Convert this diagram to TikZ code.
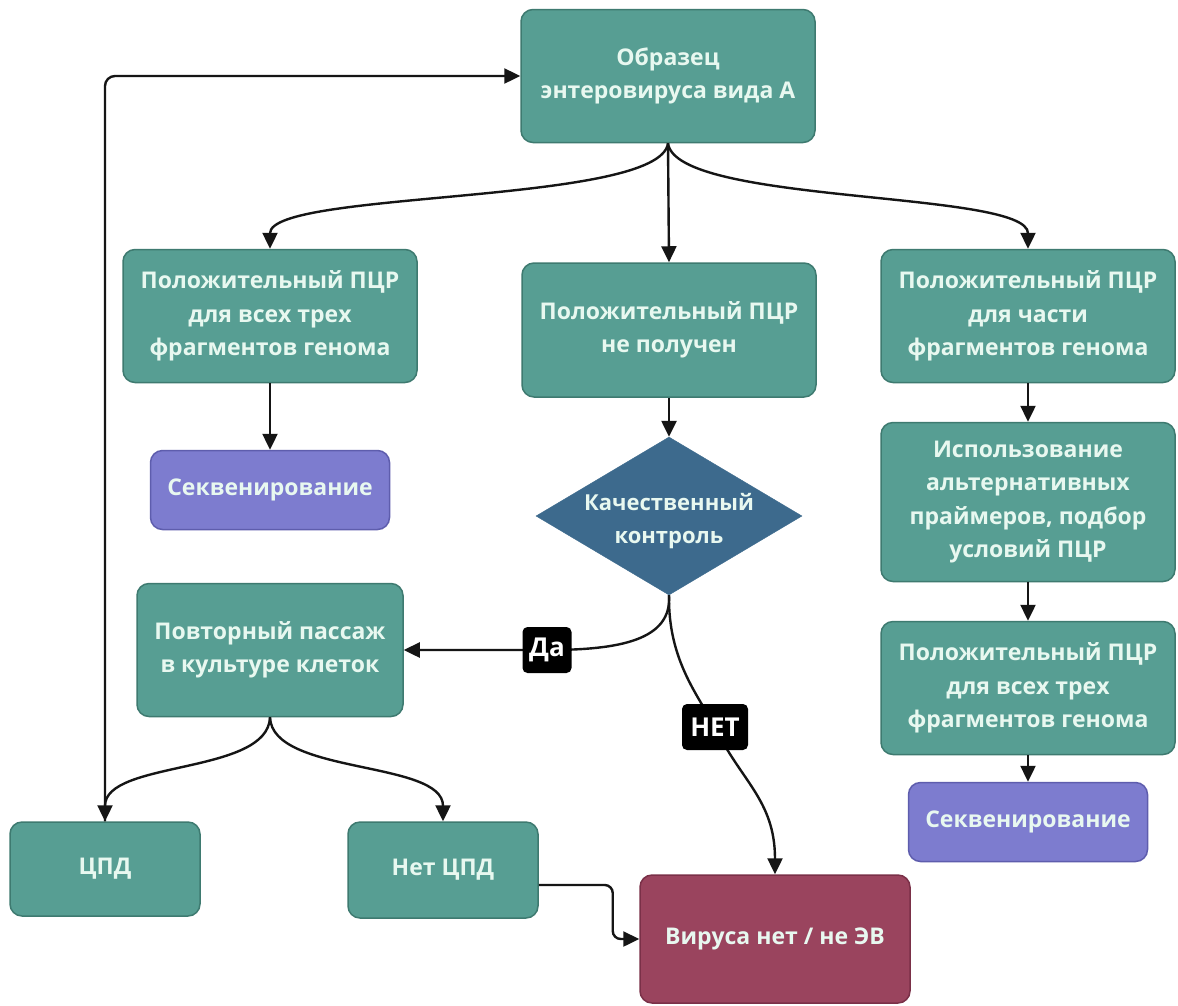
\documentclass[tikz,border=0pt]{standalone}
\usepackage{fontspec}
\setmainfont{Open Sans}
\usetikzlibrary{shapes.geometric,arrows.meta}
\definecolor{tealf}{HTML}{579E93}
\definecolor{tealb}{HTML}{3E7A70}
\definecolor{purf}{HTML}{7D7CCF}
\definecolor{purb}{HTML}{5E5DAD}
\definecolor{diaf}{HTML}{3D6A8D}
\definecolor{redf}{HTML}{9A445E}
\definecolor{redb}{HTML}{7A3048}
\definecolor{txt}{HTML}{E8F8F0}
\definecolor{lnk}{HTML}{151515}
\begin{document}
\begin{tikzpicture}[x=1pt,y=-1pt,
  box/.style={draw=tealb, fill=tealf, line width=1.5pt, rounded corners=12pt, text=txt,
    font=\bfseries\fontsize{23}{33.5}\selectfont, align=center,
    minimum width=294pt, minimum height=133pt, inner sep=0pt},
  seqbox/.style={box, draw=purb, fill=purf, minimum width=239pt, minimum height=79pt},
  redbox/.style={box, draw=redb, fill=redf},
  diabox/.style={diamond, draw=diaf, fill=diaf, minimum width=266pt, minimum height=158pt, inner sep=0pt},
  diatext/.style={text=txt, font=\bfseries\fontsize{22}{33}\selectfont, align=center},
  lab/.style={fill=black, text=white, rounded corners=5pt, font=\bfseries\fontsize{26}{28}\selectfont,
    inner sep=0pt, minimum height=46pt},
  arr/.style={draw=lnk, line width=2.4pt, -{Triangle[length=16pt,width=15pt]}},
  ln/.style={draw=lnk, line width=2.4pt}
]
\useasboundingbox[fill=white] (0,0) rectangle (1178,1005);

\node[box] (top) at (668,76) {Образец\\энтеровируса вида А};
\node[box] (l1) at (270,316) {Положительный ПЦР\\для всех трех\\фрагментов генома};
\node[box, minimum height=134pt] (m1) at (669,330) {Положительный ПЦР\\не получен};
\node[box] (r1) at (1028,316) {Положительный ПЦР\\для части\\фрагментов генома};
\node[seqbox] (s1) at (270,490) {Секвенирование};
\node[diabox] (qc) at (669,516) {};
\node[diatext] (qct) at (669,521) {Качественный\\контроль};
\node[box, minimum width=266pt] (rep) at (270,650) {Повторный пассаж\\в культуре клеток};
\node[box, minimum height=159pt] (alt) at (1028,502) {Использование\\альтернативных\\праймеров, подбор\\условий ПЦР};
\node[box] (r3) at (1028,688) {Положительный ПЦР\\для всех трех\\фрагментов генома};
\node[seqbox] (s2) at (1028,822) {Секвенирование};
\node[box, minimum width=190pt, minimum height=94pt] (cpd) at (105,869) {ЦПД};
\node[box, minimum width=190pt, minimum height=96pt] (ncpd) at (443,870) {Нет ЦПД};
\node[redbox, minimum width=270pt, minimum height=128pt] (nov) at (775,939) {Вируса нет / не ЭВ};

% connectors from top
\draw[arr] (top.south) .. controls (660,205) and (270,190) .. (l1.north);
\draw[arr] (top.south) -- (m1.north);
\draw[arr] (top.south) .. controls (676,205) and (1028,190) .. (r1.north);

\draw[arr] (l1.south) -- (s1.north);
\draw[arr] (m1.south) -- (qc.north);
\draw[arr] (r1.south) -- (alt.north);
\draw[arr] (alt.south) -- (r3.north);
\draw[arr] (r3.south) -- (s2.north);

% decision
\coordinate (dapt) at (547,650);
\coordinate (netpt) at (715,727);
\draw[arr] (qc.south) .. controls (672,640) and (620,650) .. (dapt) -- (rep.east);
\draw[arr] (qc.south) .. controls (668,660) and (698,695) .. (netpt) .. controls (740,780) and (775,800) .. (nov.north);
\node[lab, minimum width=49pt] (da) at (dapt) {Да};
\node[lab, minimum width=66pt] (net) at (netpt) {НЕТ};

% from repeat passage
\draw[arr] (rep.south) .. controls (268,775) and (105,760) .. (cpd.north);
\draw[arr] (rep.south) .. controls (272,775) and (443,760) .. (ncpd.north);

% loop back
\draw[arr, rounded corners=10pt] (cpd.north) |- (top.west);

% no CPE to no virus
\draw[arr, rounded corners=8pt] ([yshift=-15pt]ncpd.east) -- ++(74,0) |- (nov.west);
\end{tikzpicture}
\end{document}
